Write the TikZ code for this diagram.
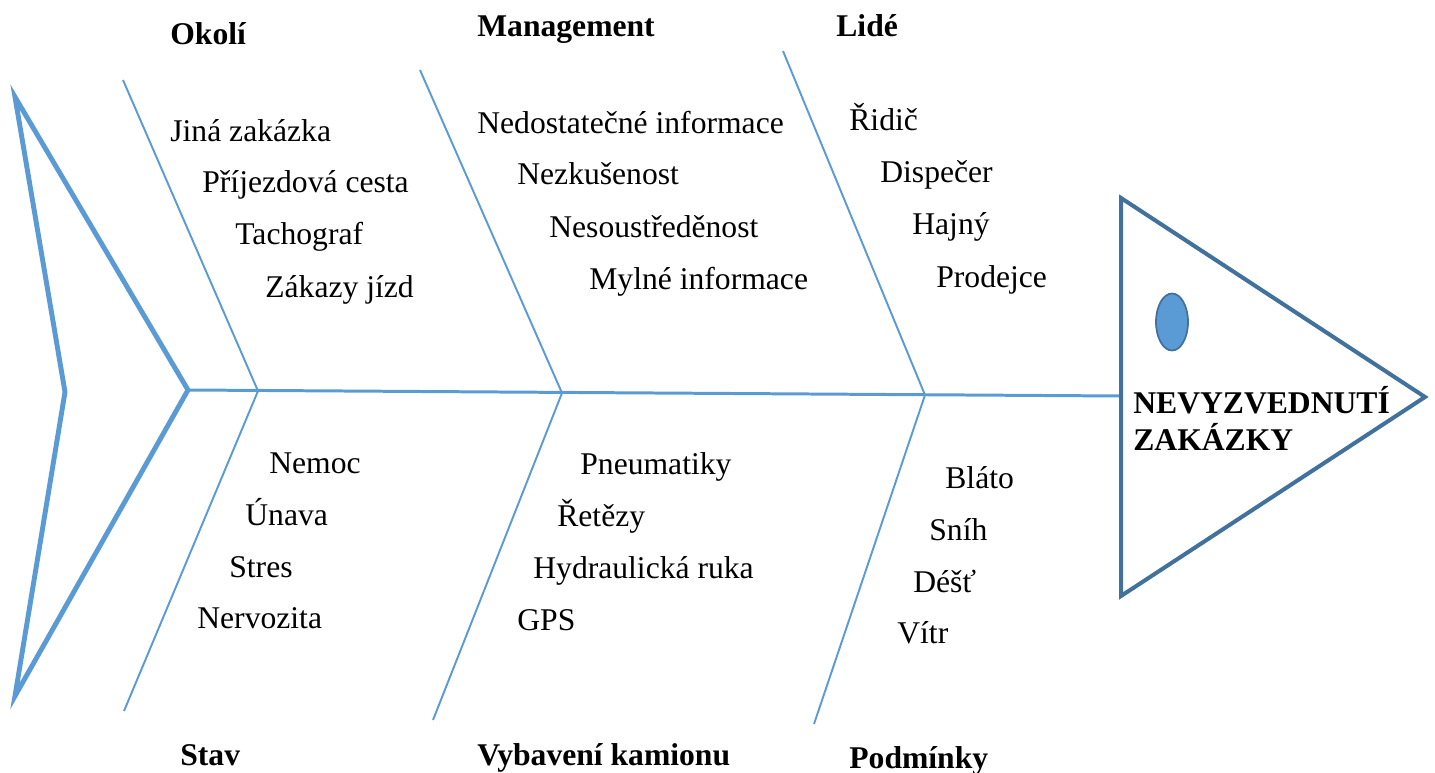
\documentclass[tikz,border=0pt]{standalone}
\usepackage{fontspec}
\setmainfont{Liberation Serif}
\usetikzlibrary{positioning}
\usetikzlibrary{shapes.geometric}
\definecolor{bonecol}{HTML}{5B9BD5}
\definecolor{headcol}{HTML}{41719C}
\tikzset{
    item/.style = {anchor=base west, inner sep=0pt, font=\fontsize{18}{21}\selectfont},
    heading/.style = {anchor=base west, inner sep=0pt, font=\fontsize{18}{21}\selectfont\bfseries},
    bone/.style = {draw=bonecol, line width=1.1pt},
    spine/.style = {draw=bonecol, line width=1.7pt},
    tailfin/.style = {draw=bonecol, line width=2.8pt, line join=miter},
    headbox/.style = {draw=headcol, line width=2.3pt, line join=miter},
    eye/.style = {ellipse, draw=headcol, fill=bonecol, line width=1pt, inner sep=0pt,
                  minimum width=0.64cm, minimum height=1.14cm}
}
\begin{document}
\begin{tikzpicture}[x=0.02cm, y=-0.02cm]
\useasboundingbox (0,0) rectangle (1435,773);
%
\coordinate (ttop) at (15,97);
\coordinate (tmid) at (65,392);
\coordinate (tbot) at (15,696);
\coordinate (tail) at (188,390);
\coordinate (j1) at (258,391);
\coordinate (j2) at (562,393);
\coordinate (j3) at (925,395);
\coordinate (u1) at (123,80);
\coordinate (u2) at (420,70);
\coordinate (u3) at (783,51);
\coordinate (d1) at (124,711);
\coordinate (d2) at (433,720);
\coordinate (d3) at (814,724);
\coordinate (htop) at (1121,198);
\coordinate (hbot) at (1121,596);
\coordinate (htip) at (1425,397);
\coordinate (head) at (1121,396);
%
\draw[tailfin] (ttop) -- (tail) -- (tbot) -- (tmid) -- cycle;
\draw[spine] (tail) -- (head);
\draw[bone] (u1) -- (j1) -- (d1);
\draw[bone] (u2) -- (j2) -- (d2);
\draw[bone] (u3) -- (j3) -- (d3);
\draw[headbox] (htop) -- (htip) -- (hbot) -- cycle;
\node[eye] at (1172,322) (eye) {};
\node[anchor=west, inner sep=0pt, align=left, font=\fontsize{18}{21}\selectfont\bfseries] at (1133,418) (effect) {NEVYZVEDNUTÍ\\ZAKÁZKY};
%
\node[heading] at (170,45) (okoli) {Okolí};
\node[heading] at (477,37) (mgmt) {Management};
\node[heading] at (836,37) (lide) {Lidé};
\node[heading] at (180,765) (stav) {Stav};
\node[heading] at (477,765) (vyb) {Vybavení kamionu};
\node[heading] at (849,768) (podm) {Podmínky};
%
\node[item] at (170,142) (o1) {Jiná zakázka};
\node[item] at (202,193) (o2) {Příjezdová cesta};
\node[item] at (235,245) (o3) {Tachograf};
\node[item] at (265,297) (o4) {Zákazy jízd};
%
\node[item] at (477,134) (m1) {Nedostatečné informace};
\node[item] at (517,185) (m2) {Nezkušenost};
\node[item] at (549,238) (m3) {Nesoustředěnost};
\node[item] at (589,290) (m4) {Mylné informace};
%
\node[item] at (849,131) (l1) {Řidič};
\node[item] at (880,183) (l2) {Dispečer};
\node[item] at (912,235) (l3) {Hajný};
\node[item] at (936,287) (l4) {Prodejce};
%
\node[item] at (269,473) (s1) {Nemoc};
\node[item] at (245,525) (s2) {Únava};
\node[item] at (229,577) (s3) {Stres};
\node[item] at (197,628) (s4) {Nervozita};
%
\node[item] at (580,474) (v1) {Pneumatiky};
\node[item] at (557,526) (v2) {Řetězy};
\node[item] at (533,578) (v3) {Hydraulická ruka};
\node[item] at (517,630) (v4) {GPS};
%
\node[item] at (945,488) (p1) {Bláto};
\node[item] at (929,540) (p2) {Sníh};
\node[item] at (913,592) (p3) {Déšť};
\node[item] at (897,643) (p4) {Vítr};

\end{tikzpicture}
\end{document}
